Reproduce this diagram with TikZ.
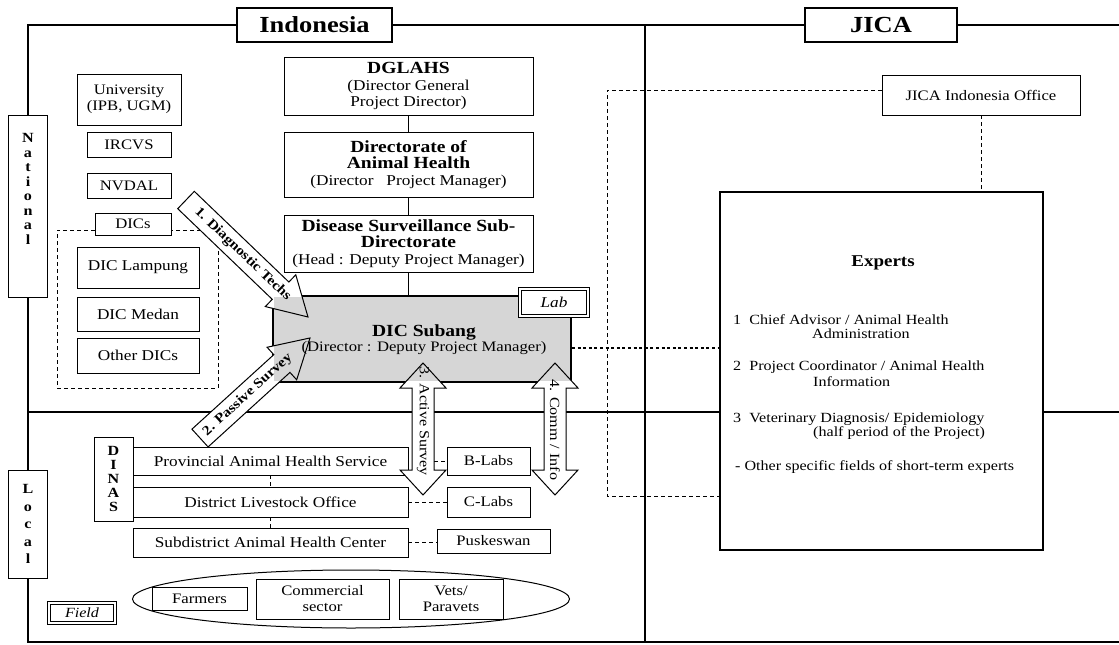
\documentclass[tikz,border=0pt]{standalone}
\usepackage{fontspec}
\setmainfont{Liberation Serif}[FakeStretch=1.15]
\usetikzlibrary{shapes.geometric}
\newcommand{\hdr}[1]{{\bfseries\fontsize{17}{18}\selectfont #1}}
\tikzset{
  bx/.style={draw, line width=0.9pt, fill=white, inner sep=0pt, align=center, font=\fontsize{14.5}{16}\selectfont},
  ob/.style={bx, font=\fontsize{15}{16.5}\selectfont},
  fl/.style={line width=1.3pt},
  cn/.style={line width=1pt},
  dsh/.style={line width=0.9pt, dash pattern=on 4pt off 3pt},
  dbl/.style={draw, double, double distance=1.6pt, line width=1pt, fill=white, inner sep=0pt, font=\itshape\fontsize{15}{16}\selectfont},
  barrow/.style={draw, line width=1pt},
  atext/.style={font=\bfseries\fontsize{13.5}{15}\selectfont, inner sep=0pt},
  vtext/.style={font=\fontsize{14}{15}\selectfont, inner sep=0pt},
  et/.style={font=\fontsize{14}{15}\selectfont, inner sep=0pt, anchor=west},
  lett/.style={font=\bfseries\fontsize{14}{14.5}\selectfont, align=center, inner sep=0pt},
  dicshade/.style={fill=gray!32},
}
\begin{document}
\begin{tikzpicture}[x=1pt,y=-1pt]
\useasboundingbox (0,0) rectangle (1119,645);
% frame coordinates
\coordinate (tl) at (28,25);
\coordinate (tr) at (1119,25);
\coordinate (bl) at (28,642);
\coordinate (br) at (1119,642);
\coordinate (mt) at (645,25);
\coordinate (mb) at (645,642);
\coordinate (hl) at (28,412);
\coordinate (hr) at (1119,412);
% frame labels
\node[ob, font=\bfseries\fontsize{23}{25}\selectfont, line width=1.1pt, minimum width=155, minimum height=34] (ind) at (314.5,25) {Indonesia};
\node[ob, font=\bfseries\fontsize{23}{25}\selectfont, line width=1.1pt, minimum width=152, minimum height=34] (jica) at (881,25) {JICA};
\node[ob, minimum width=39, minimum height=182] (nat) at (28,206) {};
\node[lett] (natt) at (28,189) {N\\a\\t\\i\\o\\n\\a\\l};
\node[ob, font=\bfseries\fontsize{14}{17.5}\selectfont, minimum width=39, minimum height=108] (loc) at (28,524) {L\\o\\c\\a\\l};
% frame lines
\draw[fl] (nat.north) -- (tl) -- (ind.west);
\draw[fl] (ind.east) -- (jica.west);
\draw[fl] (jica.east) -- (tr);
\draw[fl] (nat.south) -- (loc.north);
\draw[fl] (loc.south) -- (bl) -- (br);
\draw[fl] (mt) -- (mb);
\draw[fl] (hl) -- (hr);
% left column
\node[bx, minimum width=104, minimum height=51] (uni) at (129,99.5) {University\\(IPB, UGM)};
\node[bx, minimum width=84, minimum height=25] (ircvs) at (129,144.5) {IRCVS};
\node[bx, minimum width=84, minimum height=25] (nvdal) at (129,185.5) {NVDAL};
\coordinate (g1) at (57,230);
\coordinate (g2) at (218,388);
\node[bx, minimum width=76, minimum height=22] (dics) at (133,224) {DICs};
\draw[dsh] (dics.west |- g1) -- (g1) |- (g2) |- (dics.east |- g1);
\node[ob, minimum width=122, minimum height=41] (dicl) at (138,267.5) {DIC Lampung};
\node[ob, minimum width=122, minimum height=34] (dicm) at (138,314) {DIC Medan};
\node[ob, minimum width=122, minimum height=35] (dico) at (138,355.5) {Other DICs};
% centre column
\node[ob, minimum width=249, minimum height=58] (dg) at (408.5,86) {\hdr{DGLAHS}\\(Director General\\ Project Director)};
\node[ob, minimum width=249, minimum height=65] (dah) at (408.5,164.5) {\hdr{Directorate of}\\\hdr{Animal Health}\\(Director~~~Project Manager)};
\node[ob, minimum width=249, minimum height=57] (dss) at (408.5,243.5) {\hdr{Disease Surveillance Sub-}\\\hdr{Directorate}\\(Head : Deputy Project Manager)};
\draw[cn] (dg) -- (dah);
\draw[cn] (dah) -- (dss);
\node[draw, line width=4pt, dicshade, minimum width=296, minimum height=84, inner sep=0pt] (dic) at (422,339) {};
\draw[cn] (dss.south) -- (dss.south |- dic.north);
% local boxes
\node[bx, font=\bfseries\fontsize{14}{13.8}\selectfont, minimum width=39, minimum height=84] (dinas) at (113.5,479) {D\\I\\N\\A\\S};
\node[ob, minimum width=275, minimum height=28] (pahs) at (270.5,461) {Provincial Animal Health Service};
\node[ob, minimum width=275, minimum height=30] (dlo) at (270.5,502) {District Livestock Office};
\node[ob, minimum width=275, minimum height=29] (sahc) at (270.5,542.5) {Subdistrict Animal Health Center};
\draw[dsh] (pahs) -- (dlo);
\draw[dsh] (dlo) -- (sahc);
\node[bx, minimum width=83, minimum height=28] (blabs) at (488.5,461) {B-Labs};
\node[bx, minimum width=83, minimum height=30] (clabs) at (488.5,502) {C-Labs};
\node[bx, minimum width=113, minimum height=24] (pusk) at (493.5,541) {Puskeswan};
\draw[dsh] (dlo.east) -- (clabs.west);
\draw[dsh] (sahc.east) -- (sahc.east -| pusk.west);
\coordinate (a3r) at (434,461);
\draw[dsh] (a3r) -- (blabs.west);
% field
\node[draw, ellipse, line width=1pt, minimum width=437, minimum height=58, inner sep=0pt] (ell) at (351,599) {};
\node[bx, minimum width=95, minimum height=23] (farm) at (199.5,598.5) {Farmers};
\node[bx, minimum width=133, minimum height=40] (comm) at (322.5,599) {Commercial\\sector};
\node[bx, minimum width=104, minimum height=40] (vets) at (451,599) {Vets/\\Paravets};
\node[dbl, font=\itshape\fontsize{14}{15}\selectfont, minimum width=66, minimum height=20] (field) at (82,613) {Field};
% block arrows: white fill
\begin{scope}[shift={(247,258.5)}, rotate=-43.8]
  \fill[white] (-84.5,-12) -- (46.5,-12) -- (46.5,-22) -- (84.5,0) -- (46.5,22) -- (46.5,12) -- (-84.5,12) -- cycle;
\end{scope}
\begin{scope}[shift={(255,388)}, rotate=42.3]
  \fill[white] (-74.35,-12) -- (36.35,-12) -- (36.35,-22) -- (74.35,0) -- (36.35,22) -- (36.35,12) -- (-74.35,12) -- cycle;
\end{scope}
\fill[white] (423,363) -- (446,388) -- (434,388) -- (434,470) -- (446,470) -- (423,495) -- (400,470) -- (412,470) -- (412,388) -- (400,388) -- cycle;
\fill[white] (555,363) -- (578,388) -- (566,388) -- (566,470) -- (578,470) -- (555,495) -- (532,470) -- (544,470) -- (544,388) -- (532,388) -- cycle;
% re-shade inside of DIC Subang
\fill[dicshade] ([shift={(2,-2)}]dic.south west) rectangle ([shift={(-2,2)}]dic.north east);
\node[font=\fontsize{14.5}{15}\selectfont, align=center, inner sep=0pt] (dict) at (424,340) {\hdr{DIC Subang}\\(Director : Deputy Project Manager)};
% block arrows: outlines and labels
\begin{scope}[shift={(247,258.5)}, rotate=-43.8]
  \draw[barrow] (-84.5,-12) -- (46.5,-12) -- (46.5,-22) -- (84.5,0) -- (46.5,22) -- (46.5,12) -- (-84.5,12) -- cycle;
  \node[atext, rotate=-43.8] (a1t) at (-6,0) {1. Diagnostic Techs};
\end{scope}
\begin{scope}[shift={(255,388)}, rotate=42.3]
  \draw[barrow] (-74.35,-12) -- (36.35,-12) -- (36.35,-22) -- (74.35,0) -- (36.35,22) -- (36.35,12) -- (-74.35,12) -- cycle;
  \node[atext, rotate=42.3] (a2t) at (-10,0) {2. Passive Survey};
\end{scope}
\draw[barrow] (423,363) -- (446,388) -- (434,388) -- (434,470) -- (446,470) -- (423,495) -- (400,470) -- (412,470) -- (412,388) -- (400,388) -- cycle;
\draw[barrow] (555,363) -- (578,388) -- (566,388) -- (566,470) -- (578,470) -- (555,495) -- (532,470) -- (544,470) -- (544,388) -- (532,388) -- cycle;
\node[vtext, rotate=-90] (a3t) at (423,421) {3. Active Survey};
\node[vtext, rotate=-90] (a4t) at (555,430) {4. Comm / Info};
\node[dbl, minimum width=68, minimum height=27] (lab) at (554,302.5) {Lab};
% JICA side
\node[bx, minimum width=198, minimum height=40] (jio) at (981,95) {JICA Indonesia Office};
\node[bx, line width=1.1pt, minimum width=323, minimum height=358] (exp) at (881.5,371) {};
\draw[dsh] (jio.south) -- (jio.south |- exp.north);
\coordinate (jd) at (607,496);
\draw[dsh] ([yshift=5pt]jio.west) -| (jd) -- (jd -| exp.west);
\coordinate (dd) at (572,348);
\draw[line width=2.4pt, dash pattern=on 3pt off 2.6pt] (dd) -- (dd -| exp.west);
\node[font=\bfseries\fontsize{16.5}{18}\selectfont, inner sep=0pt] (expt) at (883,263) {Experts};
\node[et] (e1a) at (733,320) {1~~Chief Advisor / Animal Health};
\node[et] (e1b) at (812,334) {Administration};
\node[et] (e2a) at (733,367) {2~~Project Coordinator / Animal Health};
\node[et] (e2b) at (813,382) {Information};
\node[et] (e3a) at (733,419) {3~~Veterinary Diagnosis/ Epidemiology};
\node[et] (e3b) at (813,433) {(half period of the Project)};
\node[et] (e4) at (735,467) {- Other specific fields of short-term experts};
\end{tikzpicture}
\end{document}
